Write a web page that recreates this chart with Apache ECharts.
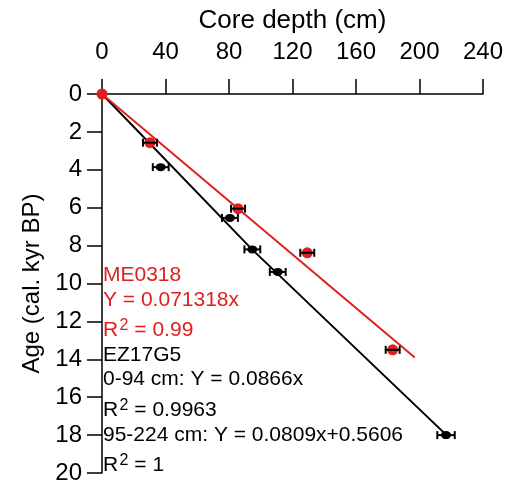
<!DOCTYPE html>
<html>
<head>
<meta charset="utf-8">
<script src="https://cdn.jsdelivr.net/npm/echarts@6/dist/echarts.min.js"></script>
<style>
html, body { margin: 0; padding: 0; background: #fff; }
#chart { width: 509px; height: 485px; }
</style>
</head>
<body>
<div id="chart"></div>
<script>
// depth (cm), age (kyr), depth error (cm)
var redDepth = [0, 30.2, 85.7, 129.3, 183.1];
var redAge = [0, 2.57, 6.05, 8.38, 13.5];
var redErr = [0, 4.4, 4.4, 4.4, 4.4];
var blackDepth = [37, 80.6, 94.7, 110.7, 216.7];
var blackAge = [3.86, 6.54, 8.2, 9.39, 18.0];
var blackErr = [5, 5, 5, 5, 5.5];
// fitted lines
var redFit = [[0, 0], [197, 13.9]];
var blackFit = [[0, 0], [94.5, 8.2], [217, 18.0]];

var RED = '#e0201e';
var FONT = '"Liberation Sans", Arial, sans-serif';

function pts(xs, ys, es) {
    var out = [];
    for (var i = 0; i < xs.length; i++) out.push([xs[i], ys[i], es ? es[i] : 0]);
    return out;
}

function errBar(params, api) {
    var x = api.value(0), y = api.value(1), e = api.value(2);
    if (!e) return;
    var a = api.coord([x - e, y]);
    var b = api.coord([x + e, y]);
    var c = 4;
    var st = { stroke: '#000', lineWidth: 2 };
    return {
        type: 'group',
        children: [
            { type: 'line', shape: { x1: a[0], y1: a[1], x2: b[0], y2: b[1] }, style: st },
            { type: 'line', shape: { x1: a[0], y1: a[1] - c, x2: a[0], y2: a[1] + c }, style: st },
            { type: 'line', shape: { x1: b[0], y1: b[1] - c, x2: b[0], y2: b[1] + c }, style: st }
        ]
    };
}

var mychart = echarts.init(document.getElementById('chart'));

// annotation block, y = middle of capital letters
var notes = [
    { t: 'ME0318', y: 275.5, c: RED },
    { t: 'Y = 0.071318x', y: 300, c: RED },
    { r2: ' = 0.99', y: 330.5, c: RED },
    { t: 'EZ17G5', y: 355.5, c: '#000' },
    { t: '0-94 cm: Y = 0.0866x', y: 379.5, c: '#000' },
    { r2: ' = 0.9963', y: 410.5, c: '#000' },
    { t: '95-224 cm: Y = 0.0809x+0.5606', y: 435, c: '#000' },
    { r2: ' = 1', y: 465.5, c: '#000' }
];
var graphics = [];
notes.forEach(function (n) {
    var top = n.y - 10.3;
    if (n.t) {
        graphics.push({ type: 'text', left: 103, top: top, z: 10,
            style: { text: n.t, fill: n.c, font: '21px ' + FONT } });
    } else {
        graphics.push({ type: 'text', left: 103, top: top, z: 10,
            style: { text: 'R', fill: n.c, font: '21px ' + FONT } });
        graphics.push({ type: 'text', left: 119.5, top: n.y - 12.6, z: 10,
            style: { text: '2', fill: n.c, font: '16px ' + FONT } });
        graphics.push({ type: 'text', left: 128.5, top: top, z: 10,
            style: { text: n.r2, fill: n.c, font: '21px ' + FONT } });
    }
});

option = {
    animation: false,
    grid: { left: 102, top: 94, right: 26, bottom: 9, containLabel: false },
    xAxis: {
        type: 'value',
        position: 'top',
        min: 0, max: 240, interval: 40,
        name: 'Core depth (cm)',
        nameLocation: 'middle',
        nameGap: 60,
        nameTextStyle: { fontSize: 26, fontFamily: FONT, color: '#000' },
        axisLine: { show: true, lineStyle: { color: '#000', width: 1.5 } },
        axisTick: { show: true, length: 15, lineStyle: { color: '#000', width: 1.5 } },
        axisLabel: { fontSize: 24, fontFamily: FONT, color: '#000', margin: 30 },
        splitLine: { show: false }
    },
    yAxis: {
        type: 'value',
        inverse: true,
        min: 0, max: 20, interval: 2,
        name: 'Age (cal. kyr BP)',
        nameLocation: 'middle',
        nameGap: 58,
        nameTextStyle: { fontSize: 24, fontFamily: FONT, color: '#000' },
        axisLine: { show: true, lineStyle: { color: '#000', width: 1.5 } },
        axisTick: { show: true, length: 15, lineStyle: { color: '#000', width: 1.5 } },
        axisLabel: { fontSize: 24, fontFamily: FONT, color: '#000', margin: 20 },
        splitLine: { show: false }
    },
    graphic: graphics,
    series: [
        {
            name: 'EZ17G5 fit', type: 'line', data: blackFit, symbol: 'none',
            lineStyle: { color: '#000', width: 2 }, z: 2
        },
        {
            name: 'ME0318 fit', type: 'line', data: redFit, symbol: 'none',
            lineStyle: { color: RED, width: 2 }, z: 2
        },
        {
            name: 'EZ17G5 err', type: 'custom', renderItem: errBar,
            data: pts(blackDepth, blackAge, blackErr), z: 3
        },
        {
            name: 'EZ17G5', type: 'scatter', data: pts(blackDepth, blackAge),
            symbolSize: [10, 8], itemStyle: { color: '#000', opacity: 1 }, z: 4
        },
        {
            name: 'ME0318', type: 'scatter', data: pts(redDepth, redAge),
            symbolSize: 11, itemStyle: { color: RED, opacity: 1 }, z: 5
        },
        {
            name: 'ME0318 err', type: 'custom', renderItem: errBar,
            data: pts(redDepth, redAge, redErr), z: 6
        }
    ]
};
mychart.setOption(option);
</script>
</body>
</html>
